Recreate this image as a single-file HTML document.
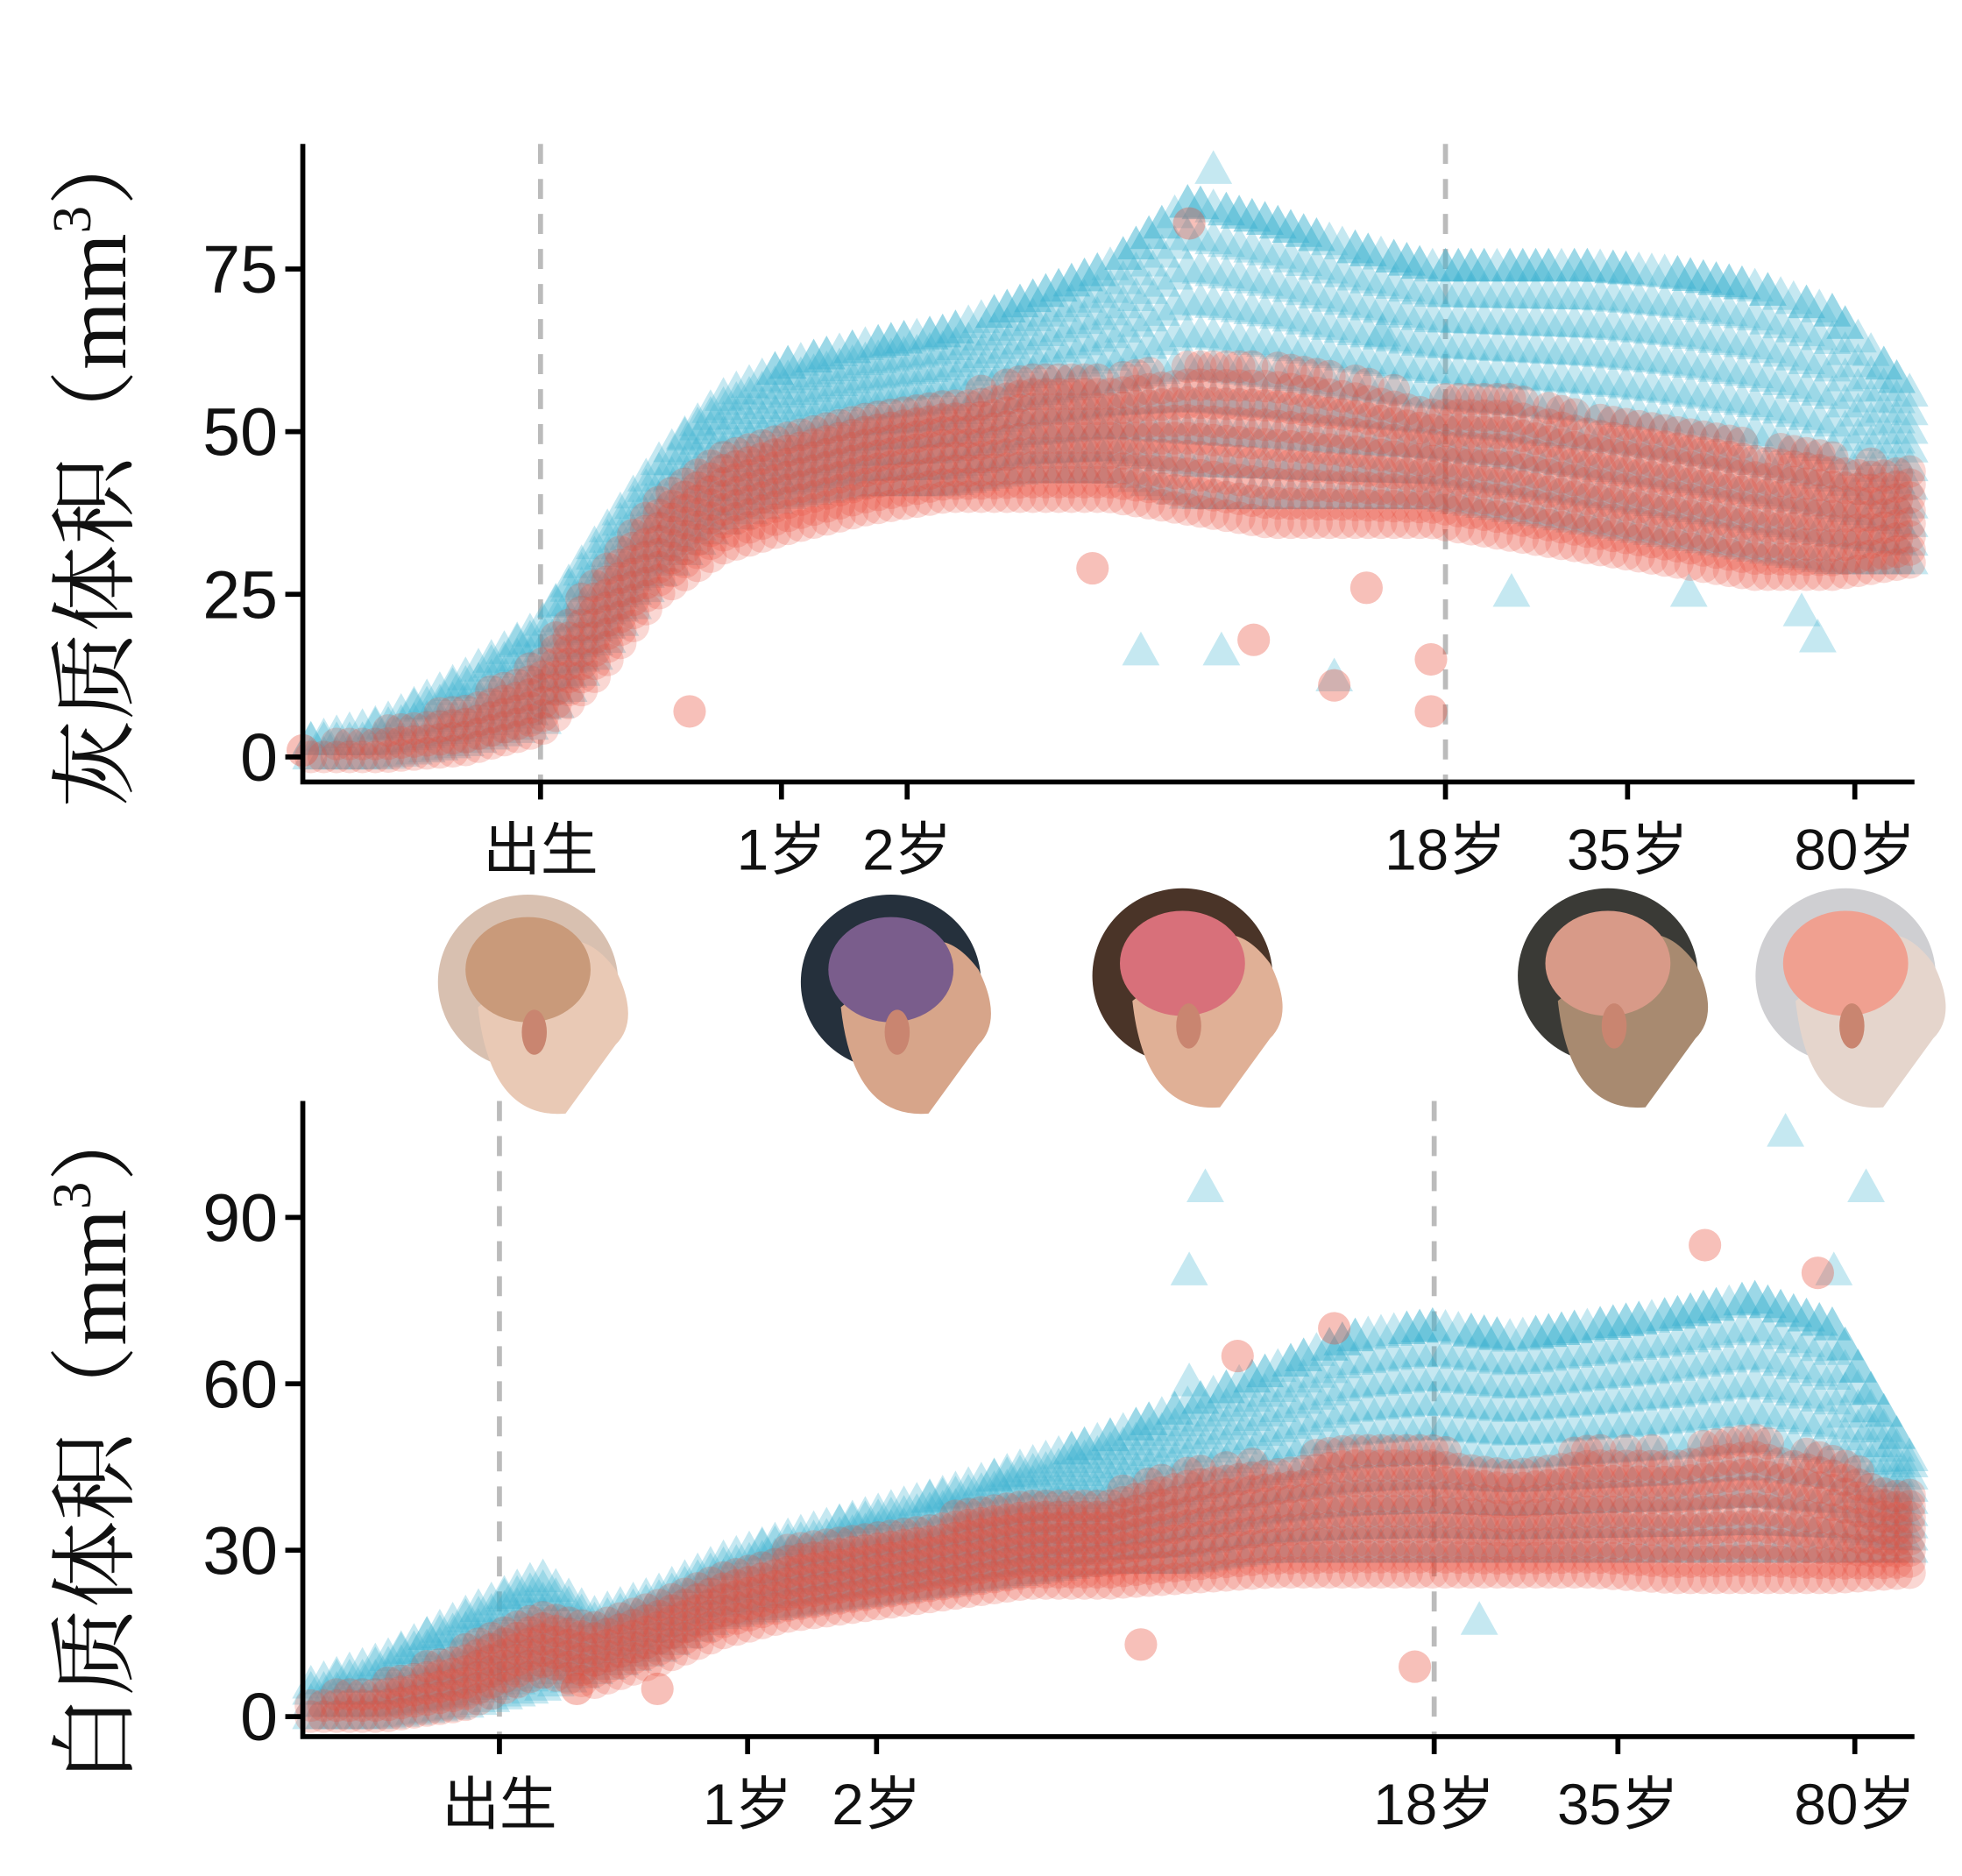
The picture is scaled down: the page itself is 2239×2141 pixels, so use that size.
<!DOCTYPE html>
<html><head><meta charset="utf-8">
<style>html,body{margin:0;padding:0;background:#fff;}svg{display:block;}</style>
</head><body>
<svg id="chart" width="2239" height="2141" viewBox="0 0 1568 1499.4" preserveAspectRatio="none" xmlns="http://www.w3.org/2000/svg">
<g id="heads"></g>
<g id="p1"></g>
<g id="p2"></g>
</svg>
<script>
// ---- data ----
const ages = [0,5,10,14.75,18,22,26,30,35,40,45,50,55,60,65,70,75,80,85,90,95,100];
const gmBlueHi = [2,5,12,20,32,45,55,60,63,65,70,75,85,82,78,75,75,75,74,72,68,55];
const gmBlueLo = [0,0,2,5,15,28,36,40,42,42,44,44,40,40,40,40,38,36,34,32,30,30];
const gmRedHi  = [1,4,8,15,28,40,48,50,52,55,58,58,60,60,58,55,55,52,50,48,46,44];
const gmRedLo  = [0,0,1,4,12,25,32,35,38,40,40,40,38,36,36,36,34,32,30,28,28,30];
const gmBlueOutX = [56.5,52,57,64,67,75,86,93,94];
const gmBlueOutY = [90,16,16,12,65,25,25,22,18];
const gmRedOutX = [0,24,49,59,55,64,70,70,66];
const gmRedOutY = [1,7,29,18,82,11,15,7,26];
const gmTickVals = [0,25,50,75];
const gmTickLabels = ["0","25","50","75"];
const gmXTicks = [14.75,29.7,37.5,70.9,82.2,96.3];
const wmBlueHi = [5,10,18,25,18,22,28,32,36,40,45,50,56,62,68,70,68,70,72,75,70,45];
const wmBlueLo = [0,0,2,5,8,12,18,20,22,24,26,28,28,30,30,30,30,30,30,30,30,30];
const wmRedHi  = [3,6,12,18,16,20,26,30,33,36,38,40,44,46,48,48,46,48,48,50,46,40];
const wmRedLo  = [0,0,2,8,6,10,15,18,20,22,24,24,25,26,26,26,26,26,25,25,25,26];
const wmBlueOutX = [56,55,55,73,92,97,95];
const wmBlueOutY = [95,80,60,17,105,95,80];
const wmRedOutX = [17,22,52,58,64,69,87,94];
const wmRedOutY = [5,5,13,65,70,9,85,80];
const wmTickVals = [0,30,60,90];
const wmTickLabels = ["0","30","60","90"];
const wmXTicks = [12.2,27.6,35.6,70.2,81.6,96.3];
const xLabels = ["出生","1岁","2岁","18岁","35岁","80岁"];

const NS="http://www.w3.org/2000/svg";
function mk(parent,tag,attrs){const e=document.createElementNS(NS,tag);for(const k in attrs)e.setAttribute(k,attrs[k]);parent.appendChild(e);return e;}
function interp(arr,u){for(let i=0;i<ages.length-1;i++){if(u<=ages[i+1]){const t=(u-ages[i])/(ages[i+1]-ages[i]);return arr[i]+t*(arr[i+1]-arr[i]);}}return arr[arr.length-1];}

function panel(g,cfg){
  const x=u=>cfg.x0+(cfg.x1-cfg.x0)*u/100;
  const y=v=>cfg.yz-(v/cfg.vs)*cfg.ps;
  const FONT='"Liberation Sans","Noto Sans CJK SC",sans-serif';
  [cfg.xt[0],cfg.xt[3]].forEach(u=>{
    const l=mk(g,'line',{x1:x(u),x2:x(u),y1:cfg.top,y2:cfg.ax,stroke:'#bbb','stroke-width':4,'stroke-dasharray':'16 12'});
    
    
  });
  const bg=mk(g,'g',{fill:'#3fb2cf','fill-opacity':0.3});
  
  
  const tri=(cx,cy)=>{mk(bg,'polygon',{points:`${cx},${cy-17} ${cx-15},${cy+10} ${cx+15},${cy+10}`});};
  for(let u=0.5;u<=100;u+=0.8){const hi=interp(cfg.bh,u),lo=interp(cfg.bl,u);for(let v=lo;v<=hi;v+=Math.max(2.2,(hi-lo)/9))tri(x(u),y(v));tri(x(u),y(hi));}
  cfg.box.forEach((u,i)=>tri(x(u),y(cfg.boy[i])));
  const rg=mk(g,'g',{fill:'#e84a36','fill-opacity':0.22});
  
  
  const cir=(cx,cy)=>mk(rg,'circle',{cx:cx,cy:cy,r:13});
  for(let u=0.5;u<=100;u+=0.8){const hi=interp(cfg.rh,u),lo=interp(cfg.rl,u);for(let v=lo;v<=hi;v+=Math.max(2,(hi-lo)/8))cir(x(u),y(v));}
  cfg.rox.forEach((u,i)=>{const c=cir(x(u),y(cfg.roy[i]));c.setAttribute('fill-opacity',0.35);});
  const ax=mk(g,'path',{d:`M${cfg.x0},${cfg.top} V${cfg.ax} H${cfg.x1}`,fill:'none',stroke:'#000','stroke-width':4});
  
  
  cfg.tv.forEach((v,i)=>{
    mk(g,'line',{x1:cfg.x0-14,x2:cfg.x0,y1:y(v),y2:y(v),stroke:'#000','stroke-width':4});
    const t=mk(g,'text',{x:cfg.x0-20,y:y(v)+19,'text-anchor':'end','font-size':54,'font-family':FONT,fill:'#111'});
    t.textContent=cfg.tl[i];
    
    
  });
  cfg.xt.forEach((u,i)=>{
    const tick=mk(g,'line',{x1:x(u),x2:x(u),y1:cfg.ax,y2:cfg.ax+14,stroke:'#000','stroke-width':4});
    const t=mk(g,'text',{x:x(u),y:cfg.ax+70,'text-anchor':'middle','font-size':46,'font-family':FONT,fill:'#111'});
    t.textContent=xLabels[i];
    
    
  });
  const tt=mk(g,'text',{transform:`translate(100,${cfg.tc}) rotate(-90)`,'text-anchor':'middle','font-size':70,'font-family':'"Liberation Serif","Noto Serif CJK SC",serif',fill:'#111'});
  tt.innerHTML=cfg.title;
  
  
}
panel(document.getElementById('p1'),{x0:242,x1:1530,yz:605,vs:25,ps:130,top:115,ax:625,bh:gmBlueHi,bl:gmBlueLo,rh:gmRedHi,rl:gmRedLo,box:gmBlueOutX,boy:gmBlueOutY,rox:gmRedOutX,roy:gmRedOutY,tv:gmTickVals,tl:gmTickLabels,xt:gmXTicks,tc:370,title:'灰质体积（mm<tspan dy="-28" font-size="44">3</tspan><tspan dy="28">）</tspan>'});
panel(document.getElementById('p2'),{x0:242,x1:1530,yz:1372,vs:30,ps:133,top:880,ax:1388,bh:wmBlueHi,bl:wmBlueLo,rh:wmRedHi,rl:wmRedLo,box:wmBlueOutX,boy:wmBlueOutY,rox:wmRedOutX,roy:wmRedOutY,tv:wmTickVals,tl:wmTickLabels,xt:wmXTicks,tc:1150,title:'白质体积（mm<tspan dy="-28" font-size="44">3</tspan><tspan dy="28">）</tspan>'});

const heads=[[432,805,'#e9c9b5','#c99a7a','#d8c0b0'],[722,805,'#d7a58a','#7a5d8c','#25303c'],[955,800,'#e0b096','#d8707a','#4a3428'],[1295,800,'#a88a70','#d89a88','#3a3a36'],[1485,800,'#e5d5cc','#f0a090','#cfcfd2']];
const hg=document.getElementById('heads');
heads.forEach(h=>{
  const g=mk(hg,'g',{});
  
  
  mk(g,'ellipse',{cx:h[0]-10,cy:h[1]-20,rx:72,ry:70,fill:h[4]});
  mk(g,'path',{d:`M${h[0]-50},${h[1]} Q${h[0]-40},${h[1]+90} ${h[0]+20},${h[1]+85} L${h[0]+60},${h[1]+30} Q${h[0]+80},${h[1]+10} ${h[0]+60},${h[1]-30} Q${h[0]+30},${h[1]-70} ${h[0]},${h[1]-40} Z`,fill:h[2]});
  mk(g,'ellipse',{cx:h[0]-10,cy:h[1]-30,rx:50,ry:42,fill:h[3]});
  mk(g,'ellipse',{cx:h[0]-5,cy:h[1]+20,rx:10,ry:18,fill:'#c98570'});
});
</script>
</body></html>
